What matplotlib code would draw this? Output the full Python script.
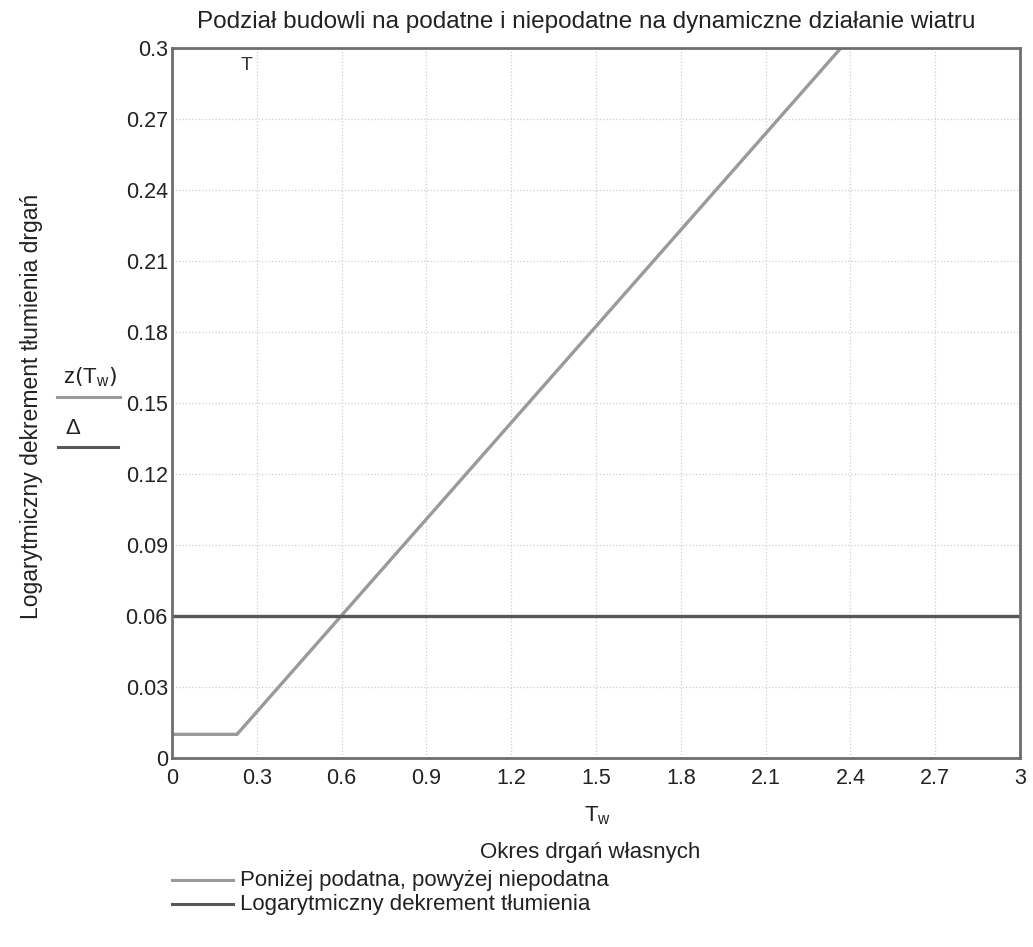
import numpy as np
import matplotlib
matplotlib.use('Agg')
import matplotlib.pyplot as plt
from matplotlib.lines import Line2D

plt.rcParams['font.family'] = ['Liberation Sans', 'DejaVu Sans']

# data
t_podatne = [0.0, 0.23, 3.0]
z_podatne = [0.01, 0.01, 0.386]
t_delta = [0.0, 3.0]
delta = [0.06, 0.06]

x_ticks = [0, 0.3, 0.6, 0.9, 1.2, 1.5, 1.8, 2.1, 2.4, 2.7, 3]
x_labels = ['0', '0.3', '0.6', '0.9', '1.2', '1.5', '1.8', '2.1', '2.4', '2.7', '3']
y_ticks = [0, 0.03, 0.06, 0.09, 0.12, 0.15, 0.18, 0.21, 0.24, 0.27, 0.3]
y_labels = ['0', '0.03', '0.06', '0.09', '0.12', '0.15', '0.18', '0.21', '0.24', '0.27', '0.3']

title = 'Podział budowli na podatne i niepodatne na dynamiczne działanie wiatru'
y_title = 'Logarytmiczny dekrement tłumienia drgań'
x_title = 'Okres drgań własnych'
legend_names = ['Poniżej podatna, powyżej niepodatna', 'Logarytmiczny dekrement tłumienia']

W, H = 1033, 947
c_light = '#9a9a9a'
c_dark = '#575757'
c_text = '#222222'


def fx(px):
    return px / W


def fy(py):
    return 1 - py / H


fig = plt.figure(figsize=(W / 100, H / 100), dpi=100)
ax = fig.add_axes([fx(172), fy(758), fx(1020) - fx(172), fy(48) - fy(758)])

ax.plot(t_podatne, z_podatne, color=c_light, lw=2.4, solid_capstyle='butt')
ax.plot(t_delta, delta, color=c_dark, lw=2.4, solid_capstyle='butt')

ax.set_xlim(0, 3)
ax.set_ylim(0, 0.3)
ax.set_xticks(x_ticks)
ax.set_xticklabels(x_labels)
ax.set_yticks(y_ticks)
ax.set_yticklabels(y_labels)
ax.tick_params(length=0, labelsize=15.5, colors=c_text)
ax.tick_params(axis='x', pad=7)
ax.tick_params(axis='y', pad=3)
ax.grid(True, color='#cfcfcf', linestyle=':', linewidth=0.9)
for s in ax.spines.values():
    s.set_color('#6e6e6e')
    s.set_linewidth(2)

# Mathcad marker label
ax.text(0.265, 0.296, 'T', fontsize=14, ha='center', va='top', color='#333333')

# labels around the plot
fig.text(fx(197), fy(22), title, fontsize=17.5, ha='left', va='center', color=c_text)
fig.text(fx(32), fy(406), y_title, fontsize=16.5, rotation=90, ha='center', va='center',
         color=c_text)
fig.text(fx(598), fy(816), r'$\mathregular{T_w}$', fontsize=16, ha='center', va='center',
         color=c_text)
fig.text(fx(590), fy(852), x_title, fontsize=16, ha='center', va='center', color=c_text)

# trace labels on the left side
fig.text(fx(90), fy(377), r'$\mathregular{z\left(T_w\right)}$', fontsize=16, ha='center',
         va='center', color=c_text)
fig.add_artist(Line2D([fx(57), fx(120)], [fy(397), fy(397)], color=c_light, lw=2.2))
fig.text(fx(73), fy(428), 'Δ', fontsize=16, ha='center', va='center', color=c_text)
fig.add_artist(Line2D([fx(58), fx(118)], [fy(447), fy(447)], color=c_dark, lw=2.2))

# legend below
for i, (name, col) in enumerate(zip(legend_names, [c_light, c_dark])):
    yy = 880 + i * 24
    fig.add_artist(Line2D([fx(172), fx(233)], [fy(yy), fy(yy)], color=col, lw=2.2))
    fig.text(fx(240), fy(yy), name, fontsize=16, ha='left', va='center', color=c_text)

fig.savefig('out.png', dpi=100, facecolor='white')
